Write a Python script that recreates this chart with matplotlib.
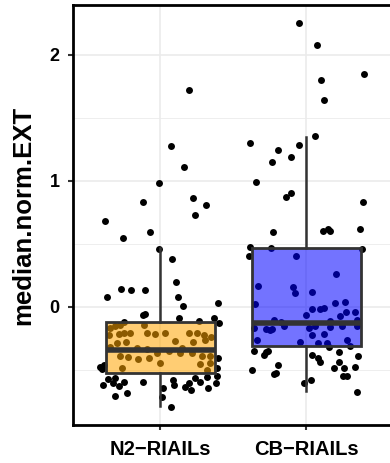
import numpy as np
import matplotlib
matplotlib.use('Agg')
import matplotlib.pyplot as plt

plt.rcParams['font.family'] = ['Liberation Sans', 'DejaVu Sans']

groups = ['N2\u2212RIAILs', 'CB\u2212RIAILs']
box_colors = ['orange', 'blue']

# jitter offset (category units) and value for each strain
n2_off = [0.194, 0.073, 0.162, -0.007, -0.119, 0.224, 0.313, 0.240, -0.381, -0.073,
          -0.258, -0.011, 0.078, 0.110, -0.267, -0.203, -0.103, -0.365, 0.121, 0.155,
          0.395, -0.107, -0.116, 0.126, 0.368, 0.400, -0.247, 0.267, -0.342, -0.308,
          -0.274, -0.114, -0.354, -0.285, -0.247, -0.205, -0.091, -0.034, 0.030, 0.194,
          0.251, 0.301, 0.347, -0.297, -0.233, 0.103, 0.224, 0.308, -0.342, -0.160,
          -0.091, 0.148, -0.023, 0.057, -0.274, -0.224, -0.155, -0.080, 0.137, 0.217,
          0.285, 0.342, -0.005, 0.269, 0.342, -0.265, 0.320, -0.411, -0.400, -0.388,
          0.393, 0.388, -0.395, -0.361, -0.308, -0.326, -0.285, -0.247, -0.308, -0.228,
          -0.119, 0.016, 0.011, 0.073, 0.084, 0.096, 0.167, 0.194, 0.212, 0.235,
          0.269, 0.324, 0.384, 0.320, 0.388]
n2_val = [1.722, 1.279, 1.107, 0.983, 0.829, 0.861, 0.805, 0.731, 0.678, 0.596,
          0.543, 0.456, 0.381, 0.193, 0.143, 0.130, 0.135, 0.074, 0.074, 0.003,
          0.032, -0.058, -0.069, -0.090, -0.087, -0.127, -0.119, -0.114, -0.167, -0.154,
          -0.146, -0.146, -0.225, -0.220, -0.212, -0.212, -0.212, -0.220, -0.212, -0.207,
          -0.212, -0.225, -0.244, -0.291, -0.278, -0.270, -0.278, -0.265, -0.318, -0.331,
          -0.339, -0.331, -0.366, -0.350, -0.392, -0.403, -0.419, -0.411, -0.366, -0.366,
          -0.392, -0.392, -0.450, -0.458, -0.450, -0.485, -0.503, -0.477, -0.498, -0.464,
          -0.411, -0.490, -0.623, -0.577, -0.570, -0.609, -0.630, -0.596, -0.707, -0.689,
          -0.596, -0.644, -0.715, -0.795, -0.583, -0.623, -0.636, -0.609, -0.662, -0.564,
          -0.596, -0.644, -0.609, -0.556, -0.551]

cb_off = [-0.050, 0.073, 0.392, 0.101, 0.118, 0.057, -0.388, -0.048, -0.194, -0.105,
          -0.238, -0.345, -0.103, -0.142, 0.386, -0.226, 0.112, 0.146, 0.164, 0.365,
          -0.388, -0.395, -0.242, 0.382, -0.071, 0.205, -0.334, -0.091, -0.080, 0.039,
          -0.354, 0.194, 0.262, 0.118, 0.096, 0.039, -0.002, 0.269, 0.336, 0.233,
          0.347, -0.361, -0.338, -0.276, -0.251, -0.235, -0.155, -0.041, 0.016, 0.039,
          0.062, 0.080, 0.123, 0.142, 0.164, 0.245, 0.279, 0.301, 0.347, -0.224,
          -0.171, 0.164, -0.361, -0.292, -0.276, -0.262, -0.194, -0.372, -0.224, -0.210,
          -0.014, 0.034, 0.039, 0.077, 0.096, 0.153, 0.221, 0.226, 0.192, 0.255,
          0.336, 0.249, 0.279, 0.351, 0.347]
cb_val = [2.257, 2.077, 1.849, 1.801, 1.645, 1.354, 1.298, 1.287, 1.245, 1.189,
          1.152, 0.988, 0.906, 0.869, 0.834, 0.596, 0.601, 0.615, 0.604, 0.615,
          0.472, 0.405, 0.464, 0.458, 0.403, 0.257, 0.167, 0.159, 0.106, 0.119,
          0.019, 0.032, 0.037, -0.008, -0.019, -0.019, -0.066, -0.045, -0.040, -0.074,
          -0.154, -0.172, -0.265, -0.180, -0.185, -0.177, -0.154, -0.278, -0.172, -0.225,
          -0.154, -0.291, -0.220, -0.291, -0.159, -0.154, -0.265, -0.310, -0.106, -0.106,
          -0.122, -0.114, -0.352, -0.384, -0.363, -0.350, -0.464, -0.503, -0.538, -0.530,
          -0.604, -0.583, -0.384, -0.411, -0.442, -0.318, -0.358, -0.442, -0.485, -0.485,
          -0.482, -0.551, -0.551, -0.392, -0.675]

# box summaries (lower whisker, q1, median, q3, upper whisker)
whislo = [-0.789, -0.668]
q1 = [-0.524, -0.310]
med = [-0.344, -0.127]
q3 = [-0.122, 0.464]
whishi = [0.464, 1.351]


def main():
    fig = plt.figure(figsize=(3.9, 4.63), dpi=100)
    ax = fig.add_axes([72.7 / 390, 38 / 463, 321.2 / 390, 420 / 463])

    # jittered points below the boxes
    ax.scatter(1 + np.array(n2_off), n2_val, s=25, color='black', linewidths=0, zorder=2)
    ax.scatter(2 + np.array(cb_off), cb_val, s=25, color='black', linewidths=0, zorder=2)

    stats = []
    for i, g in enumerate(groups):
        stats.append({'label': g, 'whislo': whislo[i], 'q1': q1[i], 'med': med[i],
                      'q3': q3[i], 'whishi': whishi[i]})
    bp = ax.bxp(stats, positions=[1, 2], widths=0.75, patch_artist=True,
                showfliers=False, showcaps=False,
                boxprops=dict(edgecolor='#333333', linewidth=2.0),
                medianprops=dict(color='#333333', linewidth=4.0, solid_capstyle='butt'),
                whiskerprops=dict(color='#333333', linewidth=1.8))
    for patch, c in zip(bp['boxes'], box_colors):
        patch.set_facecolor(matplotlib.colors.to_rgba(c, 0.55))
        patch.set_edgecolor('#333333')
        patch.set_zorder(3)
    for line in bp['medians'] + bp['whiskers']:
        line.set_zorder(4)

    ax.set_xlim(0.4, 2.6)
    ax.set_ylim(-0.940, 2.397)
    ax.set_xticks([1, 2])
    ax.set_xticklabels(groups, fontsize=14.5, fontweight='bold', color='black')
    ax.set_yticks([0, 1, 2])
    ax.set_yticklabels(['0', '1', '2'], fontsize=13, fontweight='bold', color='black')
    ax.set_yticks([-0.5, 0.5, 1.5], minor=True)
    ax.tick_params(axis='both', which='major', length=3.5, width=1.5, color='#333333')
    ax.tick_params(axis='x', which='major', pad=7)
    ax.tick_params(axis='y', which='major', pad=6)
    ax.tick_params(axis='y', which='minor', length=0)

    ax.grid(True, which='major', color='#EBEBEB', linewidth=1.2, zorder=0)
    ax.grid(True, which='minor', axis='y', color='#EBEBEB', linewidth=0.6, zorder=0)
    ax.set_axisbelow(True)

    for sp in ax.spines.values():
        sp.set_linewidth(2.0)
        sp.set_color('black')
        sp.set_zorder(5)

    ax.set_ylabel('median.norm.EXT', fontsize=18.5, fontweight='bold', labelpad=10)

    fig.savefig('out.png', dpi=100)


if __name__ == '__main__':
    main()
